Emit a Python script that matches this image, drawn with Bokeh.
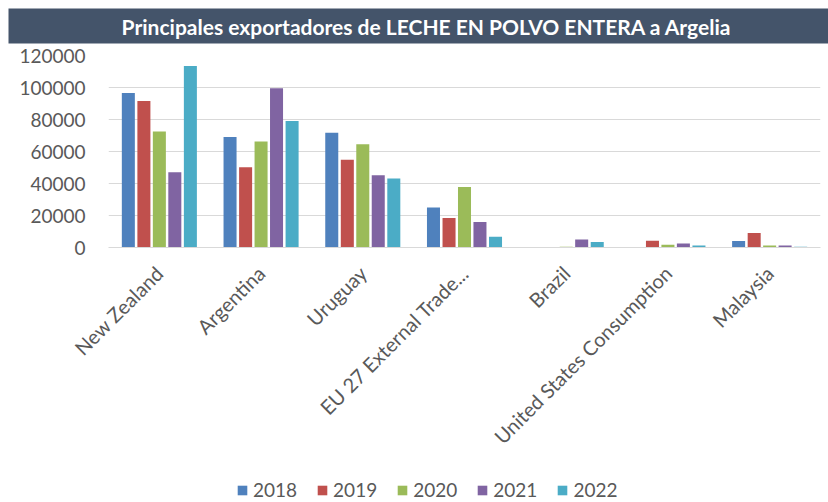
from bokeh.plotting import figure
from bokeh.models import (FactorRange, Range1d, Legend, LegendItem, Label,
                          FixedTicker, ColumnDataSource, NumeralTickFormatter)
from bokeh.transform import dodge
from bokeh.layouts import column
from bokeh.embed import file_html
from bokeh.resources import INLINE
import math

title_text = "Principales exportadores de LECHE EN POLVO ENTERA a Argelia"
countries = ["New Zealand", "Argentina", "Uruguay", "EU 27 External Trade...",
             "Brazil", "United States Consumption", "Malaysia"]
years = ["2018", "2019", "2020", "2021", "2022"]
v2018 = [96500, 69000, 71700, 25000, 0, 0, 4000]
v2019 = [91500, 50200, 54800, 18500, 0, 4200, 9000]
v2020 = [72500, 66300, 64600, 37800, 500, 1700, 1300]
v2021 = [47000, 99600, 45200, 16000, 5000, 2500, 1200]
v2022 = [113500, 79000, 43100, 6700, 3500, 1200, 400]
y_ticks = [0, 20000, 40000, 60000, 80000, 100000, 120000]

colors = ["#4F81BD", "#C0504D", "#9BBB59", "#8064A2", "#4BACC6"]
FONT = "Lato"
TXT = "#595959"
SLATE = "#44546A"

# ---- title bar ----
t = figure(width=828, height=44, x_range=Range1d(0, 1), y_range=Range1d(0, 1),
           output_backend="svg", toolbar_location=None,
           min_border_left=8, min_border_right=0, min_border_top=8, min_border_bottom=1)
t.frame_align = False
t.axis.visible = False
t.grid.visible = False
t.outline_line_color = None
t.background_fill_color = SLATE
t.border_fill_color = "white"
t.add_layout(Label(x=0.51, y=0.5, text=title_text, text_align="center",
                   text_baseline="middle", text_color="white", text_font=FONT,
                   text_font_style="bold", text_font_size="21px"))

# ---- main chart ----
src = ColumnDataSource(dict(country=countries, y2018=v2018, y2019=v2019,
                            y2020=v2020, y2021=v2021, y2022=v2022))
p = figure(width=828, height=428, x_range=FactorRange(*countries, range_padding=0),
           y_range=Range1d(0, 120000), output_backend="svg", toolbar_location=None,
           min_border_left=108, min_border_right=8, min_border_top=11,
           min_border_bottom=225)
p.frame_align = False
p.outline_line_color = None
p.xgrid.grid_line_color = None
p.ygrid.grid_line_color = "#D9D9D9"
p.ygrid.grid_line_width = 1

offsets = [-0.305, -0.152, 0.0, 0.152, 0.305]
cols = ["y2018", "y2019", "y2020", "y2021", "y2022"]
for c, off, col in zip(colors, offsets, cols):
    p.vbar(x=dodge("country", off, range=p.x_range), top=col, width=0.128,
           source=src, fill_color=c, line_color=None)

p.yaxis.ticker = FixedTicker(ticks=y_ticks)
p.yaxis.formatter = NumeralTickFormatter(format="0")
p.yaxis.axis_line_color = None
p.yaxis.major_tick_line_color = None
p.yaxis.minor_tick_line_color = None
p.yaxis.major_label_text_font = FONT
p.yaxis.major_label_text_font_size = "19px"
p.yaxis.major_label_text_color = TXT
p.yaxis.major_label_standoff = 17

p.xaxis.axis_line_color = "#D9D9D9"
p.xaxis.major_tick_line_color = None
p.xaxis.minor_tick_line_color = None
p.xaxis.major_label_orientation = math.pi / 4
p.xaxis.major_label_text_font = FONT
p.xaxis.major_label_text_font_size = "20px"
p.xaxis.major_label_text_color = TXT
p.xaxis.major_label_standoff = 16

# ---- legend strip (legend proxies: zero-height bars outside the view) ----
lf = figure(width=828, height=30, x_range=FactorRange(*countries),
            y_range=Range1d(1e6, 2e6), output_backend="svg", toolbar_location=None,
            min_border_left=0, min_border_right=0, min_border_top=0, min_border_bottom=0)
lf.frame_align = False
lf.axis.visible = False
lf.grid.visible = False
lf.outline_line_color = None
items = []
for yr, c, off, col in zip(years, colors, offsets, cols):
    r = lf.vbar(x=dodge("country", off, range=lf.x_range), top=col, bottom=col,
                width=0.128, source=src, fill_color=c, line_color=None)
    items.append(LegendItem(label=yr, renderers=[r]))
legend = Legend(items=items, orientation="horizontal", location=(236, 1),
                glyph_width=12, glyph_height=12, label_standoff=5, spacing=19,
                padding=0, margin=0, label_height=20,
                label_text_font=FONT, label_text_font_size="19px",
                label_text_color=TXT, border_line_color=None,
                background_fill_alpha=0)
lf.add_layout(legend)

layout = column(t, p, lf, spacing=0)
open("out.html", "w").write(file_html(layout, INLINE))
